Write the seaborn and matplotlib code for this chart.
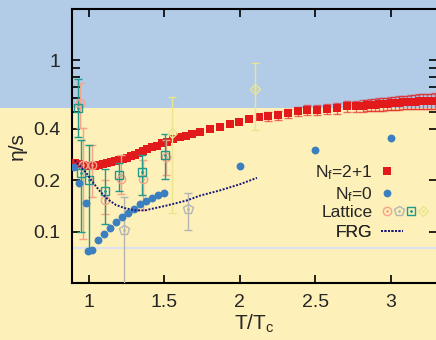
import numpy as np
import matplotlib
matplotlib.use("Agg")
import matplotlib.pyplot as plt
import seaborn as sns
from matplotlib.lines import Line2D
from matplotlib.patches import Rectangle
from matplotlib.legend_handler import HandlerLine2D, HandlerTuple
from matplotlib.ticker import FixedLocator, NullFormatter

# N_f = 2+1
red_T = [0.909, 0.936, 0.962, 0.989, 1.015, 1.042, 1.068, 1.095, 1.121, 1.148,
         1.174, 1.201, 1.227, 1.254, 1.280, 1.307, 1.333, 1.360, 1.386, 1.419,
         1.452, 1.485, 1.519, 1.558, 1.605, 1.644, 1.684, 1.737, 1.803, 1.870,
         1.936, 1.995, 2.062, 2.128, 2.188, 2.254, 2.320, 2.386, 2.446, 2.512,
         2.578, 2.644, 2.710, 2.770,
         2.816, 2.843, 2.869, 2.896, 2.922, 2.949, 2.975, 3.002, 3.028, 3.055,
         3.081, 3.108, 3.134, 3.161, 3.187, 3.214, 3.240, 3.267, 3.293]
red_eta = [0.251, 0.247, 0.244, 0.241, 0.241, 0.242, 0.244, 0.247, 0.251, 0.254,
           0.258, 0.261, 0.266, 0.270, 0.276, 0.281, 0.287, 0.295, 0.303, 0.310,
           0.316, 0.329, 0.335, 0.346, 0.355, 0.362, 0.370, 0.380, 0.396, 0.410,
           0.425, 0.438, 0.455, 0.467, 0.473, 0.480, 0.493, 0.507, 0.514, 0.516,
           0.521, 0.526, 0.540, 0.540,
           0.545, 0.547, 0.549, 0.551, 0.554, 0.556, 0.558, 0.561, 0.564, 0.567,
           0.569, 0.571, 0.573, 0.575, 0.577, 0.579, 0.580, 0.581, 0.582]
red_err = [0] * 34 + [0.028, 0.029, 0.030, 0.031, 0.033, 0.034, 0.036, 0.037,
                      0.039, 0.040,
                      0.042, 0.043, 0.044, 0.045, 0.046, 0.047, 0.048, 0.049,
                      0.050, 0.051, 0.052, 0.053, 0.054, 0.055, 0.056, 0.057,
                      0.058, 0.059, 0.060]

# N_f = 0
blue_T = [0.903, 0.938, 0.982, 0.997, 1.020, 1.060, 1.101, 1.141, 1.181, 1.221,
          1.258, 1.300, 1.340, 1.379, 1.419, 1.459, 1.499, 2.0, 2.5, 3.0]
blue_eta = [0.237, 0.191, 0.147, 0.077, 0.078, 0.089, 0.097, 0.105, 0.113, 0.121,
            0.129, 0.136, 0.144, 0.151, 0.158, 0.164, 0.169, 0.242, 0.299, 0.350]

# FRG
frg_T = [0.909, 0.942, 0.982, 1.022, 1.075, 1.128, 1.181, 1.240, 1.307, 1.373,
         1.439, 1.519, 1.651, 1.737, 1.870, 2.002, 2.115]
frg_eta = [0.261, 0.241, 0.222, 0.197, 0.172, 0.154, 0.143, 0.137, 0.133, 0.133,
           0.137, 0.142, 0.152, 0.162, 0.174, 0.189, 0.206]

# lattice sets: value, lower end, upper end of error bar
circ_T = [0.942, 0.960, 1.020, 1.111, 1.214, 1.362, 1.512]
circ_eta = [0.564, 0.244, 0.244, 0.152, 0.204, 0.204, 0.272]
circ_lo = [0.402, 0.091, 0.160, 0.127, 0.166, 0.134, 0.213]
circ_hi = [0.740, 0.401, 0.320, 0.199, 0.280, 0.261, 0.342]

pent_T = [1.236, 1.656]
pent_eta = [0.102, 0.136]
pent_lo = [0.030, 0.102]
pent_hi = [0.159, 0.168]

sq_T = [0.927, 0.950, 1.005, 1.108, 1.203, 1.355, 1.503]
sq_eta = [0.530, 0.220, 0.201, 0.172, 0.213, 0.223, 0.282]
sq_lo = [0.356, 0.099, 0.0755, 0.111, 0.172, 0.163, 0.204]
sq_hi = [0.778, 0.342, 0.320, 0.233, 0.250, 0.282, 0.370]

dia_T = [1.554, 2.103]
dia_eta = [0.375, 0.682]
dia_lo = [0.128, 0.392]
dia_hi = [0.610, 0.965]

legend_labels = ["N$_f$=2+1", "N$_f$=0", "Lattice", "FRG"]

KSS = 1 / (4 * np.pi)

sns.set_style("ticks")
plt.rcParams["font.family"] = ["Liberation Sans", "DejaVu Sans"]
plt.rcParams["mathtext.default"] = "regular"

red = "#e31a1c"
blue = "#3b7fc0"
navy = "#1a1a7a"
c_circ = "#f6a389"
c_pent = "#b5b5b5"
c_sq = "#1f9a8c"
c_dia = "#ece48e"

fig = plt.figure(figsize=(4.36, 3.40), dpi=100)
fig.patch.set_facecolor("#fdf0b8")
fig.add_artist(Rectangle((0, 0.682), 1, 0.318, transform=fig.transFigure,
                         facecolor="#b2cce8", edgecolor="none", zorder=-10))
ax = fig.add_axes([0.1651, 0.1676, 0.8372, 0.806])
ax.set_facecolor("none")

ax.axhline(KSS, color="#dde2ee", lw=1.6, zorder=1)

# red N_f=2+1 squares with error bars at high T
rT = np.array(red_T)
rE = np.array(red_eta)
rErr = np.array(red_err)
m = rErr > 0
ax.errorbar(rT[m], rE[m], yerr=rErr[m], fmt="none", ecolor=red, alpha=0.6,
            elinewidth=1, capsize=3, zorder=2)
sns.scatterplot(x=red_T, y=red_eta, marker="s", s=34, color=red, linewidth=0,
                ax=ax, zorder=3)


def lattice(T, eta, lo, hi, marker, color, ms=6, z=4):
    T = np.array(T)
    eta = np.array(eta)
    yerr = [eta - np.array(lo), np.array(hi) - eta]
    ax.errorbar(T, eta, yerr=yerr, fmt=marker, mfc="none", mec=color, mew=1,
                ms=ms, ecolor=color, elinewidth=1, capsize=3, zorder=z)
    ax.plot(T, eta, ".", ms=2, color=color, zorder=z)


lattice(dia_T, dia_eta, dia_lo, dia_hi, "D", c_dia, ms=5)
lattice(pent_T, pent_eta, pent_lo, pent_hi, "p", c_pent, ms=7)
lattice(circ_T, circ_eta, circ_lo, circ_hi, "o", c_circ)
lattice(sq_T, sq_eta, sq_lo, sq_hi, "s", c_sq)

sns.scatterplot(x=blue_T, y=blue_eta, marker="o", s=32, color=blue, linewidth=0,
                ax=ax, zorder=5)
sns.lineplot(x=frg_T, y=frg_eta, color=navy, lw=1.4, ls=(0, (1, 0.8)),
             ax=ax, zorder=6)

ax.set_yscale("log")
ax.set_xlim(0.89, 3.307)
ax.set_ylim(0.05, 2.0)
ax.set_xticks([1, 1.5, 2, 2.5, 3])
ax.set_xticklabels(["1", "1.5", "2", "2.5", "3"])
ax.yaxis.set_major_locator(FixedLocator([0.1, 0.2, 0.4, 1]))
ax.yaxis.set_minor_locator(FixedLocator([0.5, 0.6, 0.7, 0.8, 0.9]))
ax.set_yticklabels(["0.1", "0.2", "0.4", "1"])
ax.yaxis.set_minor_formatter(NullFormatter())
ax.tick_params(which="both", direction="in", length=5.8, width=1.2,
               top=True, right=True, labelsize=14, color="black")
ax.tick_params(axis="y", pad=8)
ax.tick_params(axis="x", pad=8)
for s in ax.spines.values():
    s.set_linewidth(1.5)
    s.set_color("black")

ax.set_xlabel("T/T$_c$", fontsize=15, labelpad=1)
ax.set_ylabel("η/s", fontsize=15, labelpad=5)


class Short(HandlerLine2D):
    def __init__(self, frac, **kw):
        super().__init__(**kw)
        self.frac = frac

    def create_artists(self, legend, orig_handle, xdescent, ydescent, width,
                       height, fontsize, trans):
        return super().create_artists(legend, orig_handle, xdescent, ydescent,
                                      width * self.frac, height, fontsize, trans)


h_red = Line2D([], [], marker="s", color=red, ls="none", ms=5.8, mew=0)
h_blue = Line2D([], [], marker="o", color=blue, ls="none", ms=5.6, mew=0)


def lat_handle(marker, color, ms=6):
    return (Line2D([], [], marker=marker, mfc="none", mec=color, mew=1, ms=ms, ls="none"),
            Line2D([], [], marker=".", color=color, ms=2, ls="none"))


h_lat = (lat_handle("o", c_circ), lat_handle("p", c_pent, 7),
         lat_handle("s", c_sq), lat_handle("D", c_dia, 5))
h_frg = Line2D([], [], color=navy, lw=1.4, ls=(0, (1, 0.8)))

# one legend per row so the rows are evenly spaced as in the original
handles = [h_red, h_blue, h_lat, h_frg]
handlers = [Short(0.25), Short(0.25), HandlerTuple(ndivide=None, pad=0), Short(0.46)]
row_y = [0.404, 0.324, 0.258, 0.185]
for h, lab, hd, yy in zip(handles, legend_labels, handlers, row_y):
    leg = ax.legend([h], [lab], handler_map={h: hd},
                    loc="center right", bbox_to_anchor=(0.978, yy), frameon=False,
                    markerfirst=False, fontsize=12.5, handlelength=2.76,
                    handletextpad=0.5, borderpad=0, borderaxespad=0)
    ax.add_artist(leg)

fig.savefig("out.png", dpi=100, facecolor=fig.get_facecolor())
